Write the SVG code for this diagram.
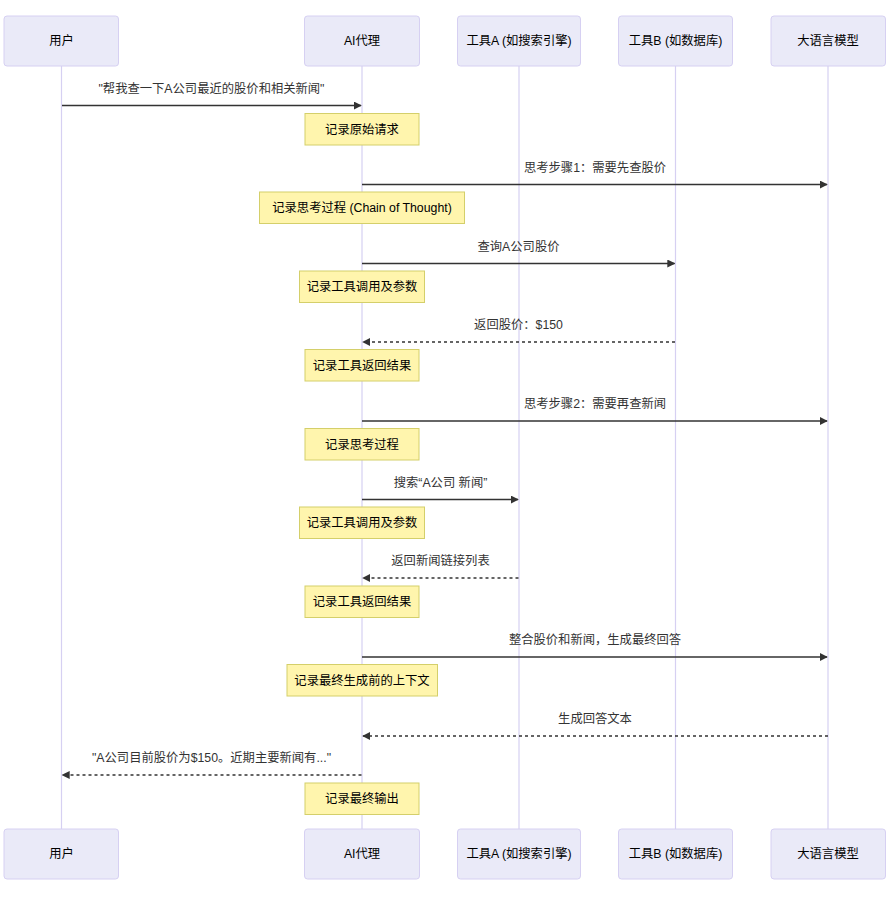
<svg xmlns="http://www.w3.org/2000/svg" width="889" height="897" viewBox="0 0 889 897">
<defs>
<marker id="ah" viewBox="0 0 10 10" refX="9" refY="5" markerWidth="8" markerHeight="8" markerUnits="userSpaceOnUse" orient="auto">
<path d="M0,0 L10,5 L0,10 z" fill="#333"/>
</marker>
<style>
text{font-family:"Liberation Sans","Noto Sans CJK SC",sans-serif;font-size:12.3px;text-anchor:middle;dominant-baseline:central}
.actor rect{fill:#eaeaf8;stroke:#d6d0f2;stroke-width:1}
.actor text{fill:#000}
.life{stroke:#d6d0f2;stroke-width:1.2}
.msg{stroke:#333;stroke-width:1.4;fill:none;marker-end:url(#ah)}
.dot{stroke-dasharray:3,3}
.mt{fill:#333}
.note rect{fill:#fff5ad;stroke:#d4cf6a;stroke-width:1}
.note text{fill:#000}
</style>
</defs>
<rect width="889" height="897" fill="#fff"/>
<g id="lifelines">
<line class="life" x1="61.5" y1="66" x2="61.5" y2="829"/>
<line class="life" x1="362" y1="66" x2="362" y2="829"/>
<line class="life" x1="519" y1="66" x2="519" y2="829"/>
<line class="life" x1="675.5" y1="66" x2="675.5" y2="829"/>
<line class="life" x1="828" y1="66" x2="828" y2="829"/>
</g>
<g id="actor-user-top" class="actor"><rect x="4" y="16" width="114.5" height="50" rx="3"/><text x="61.5" y="41">用户</text></g>
<g id="actor-agent-top" class="actor"><rect x="304.5" y="16" width="115" height="50" rx="3"/><text x="362" y="41">AI代理</text></g>
<g id="actor-toolA-top" class="actor"><rect x="457.5" y="16" width="123" height="50" rx="3"/><text x="519" y="41">工具A (如搜索引擎)</text></g>
<g id="actor-toolB-top" class="actor"><rect x="618.5" y="16" width="114" height="50" rx="3"/><text x="675.5" y="41">工具B (如数据库)</text></g>
<g id="actor-llm-top" class="actor"><rect x="771" y="16" width="114.5" height="50" rx="3"/><text x="828" y="41">大语言模型</text></g>
<g id="actor-user-bottom" class="actor"><rect x="4" y="829" width="114.5" height="50" rx="3"/><text x="61.5" y="854">用户</text></g>
<g id="actor-agent-bottom" class="actor"><rect x="304.5" y="829" width="115" height="50" rx="3"/><text x="362" y="854">AI代理</text></g>
<g id="actor-toolA-bottom" class="actor"><rect x="457.5" y="829" width="123" height="50" rx="3"/><text x="519" y="854">工具A (如搜索引擎)</text></g>
<g id="actor-toolB-bottom" class="actor"><rect x="618.5" y="829" width="114" height="50" rx="3"/><text x="675.5" y="854">工具B (如数据库)</text></g>
<g id="actor-llm-bottom" class="actor"><rect x="771" y="829" width="114.5" height="50" rx="3"/><text x="828" y="854">大语言模型</text></g>
<g id="connectors">
<line class="msg" x1="62" y1="105.5" x2="361" y2="105.5"/>
<text class="mt" x="211.5" y="89">"帮我查一下A公司最近的股价和相关新闻"</text>
<line class="msg" x1="362" y1="184.5" x2="827" y2="184.5"/>
<text class="mt" x="595" y="167.5">思考步骤1：需要先查股价</text>
<line class="msg" x1="362" y1="263.5" x2="674.5" y2="263.5"/>
<text class="mt" x="518.5" y="246.5">查询A公司股价</text>
<line class="msg dot" x1="675" y1="342" x2="363" y2="342"/>
<text class="mt" x="518.5" y="325">返回股价：$150</text>
<line class="msg" x1="362" y1="421" x2="827" y2="421"/>
<text class="mt" x="595" y="404">思考步骤2：需要再查新闻</text>
<line class="msg" x1="362" y1="499.5" x2="518" y2="499.5"/>
<text class="mt" x="440.5" y="482.5">搜索“A公司 新闻”</text>
<line class="msg dot" x1="518.5" y1="578" x2="363" y2="578"/>
<text class="mt" x="440.5" y="561">返回新闻链接列表</text>
<line class="msg" x1="362" y1="657" x2="827" y2="657"/>
<text class="mt" x="595" y="640">整合股价和新闻，生成最终回答</text>
<line class="msg dot" x1="828" y1="736" x2="363" y2="736"/>
<text class="mt" x="595" y="719">生成回答文本</text>
<line class="msg dot" x1="361.5" y1="775" x2="62.5" y2="775"/>
<text class="mt" x="211.5" y="758">"A公司目前股价为$150。近期主要新闻有..."</text>
</g>
<g id="note1" class="note"><rect x="305" y="113.5" width="114" height="31.5"/><text x="362" y="129.5">记录原始请求</text></g>
<g id="note2" class="note"><rect x="259.5" y="192" width="205" height="31.5"/><text x="362" y="208">记录思考过程 (Chain of Thought)</text></g>
<g id="note3" class="note"><rect x="299.5" y="271" width="125" height="31.5"/><text x="362" y="287">记录工具调用及参数</text></g>
<g id="note4" class="note"><rect x="305" y="349.5" width="114" height="31.5"/><text x="362" y="365.5">记录工具返回结果</text></g>
<g id="note5" class="note"><rect x="305" y="428.5" width="114" height="31.5"/><text x="362" y="444.5">记录思考过程</text></g>
<g id="note6" class="note"><rect x="299.5" y="507" width="125" height="31.5"/><text x="362" y="523">记录工具调用及参数</text></g>
<g id="note7" class="note"><rect x="305" y="586" width="114" height="31.5"/><text x="362" y="602">记录工具返回结果</text></g>
<g id="note8" class="note"><rect x="287" y="664.5" width="150.5" height="31.5"/><text x="362" y="680.5">记录最终生成前的上下文</text></g>
<g id="note9" class="note"><rect x="305" y="783" width="114" height="31.5"/><text x="362" y="799">记录最终输出</text></g>
</svg>
